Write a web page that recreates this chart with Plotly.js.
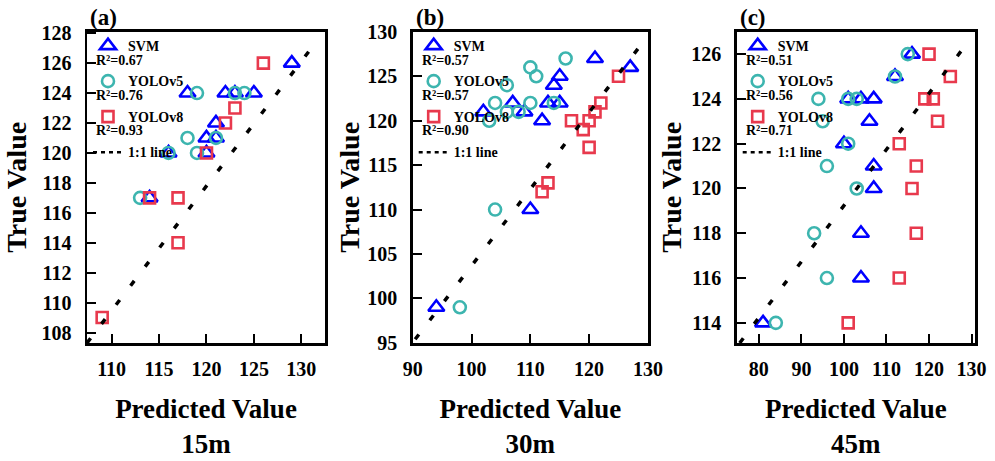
<!DOCTYPE html>
<html><head><meta charset="utf-8">
<script src="https://cdn.plot.ly/plotly-3.0.1.min.js"></script>
<style>html,body{margin:0;padding:0;background:#fff}#chart{width:995px;height:461px}</style>
</head><body><div id="chart"></div>
<script>
// ---------- data ----------
const panelLabels = ['(a)', '(b)', '(c)'];
const heightLabels = ['15m', '30m', '45m'];
const seriesNames = ['SVM', 'YOLOv5', 'YOLOv8'];
const lineName = '1:1 line';
const xTitle = 'Predicted Value';
const yTitle = 'True Value';

const r2A = ['0.67', '0.76', '0.93'];
const r2B = ['0.57', '0.57', '0.90'];
const r2C = ['0.51', '0.56', '0.71'];

// (a) 15m
const aSvmX = [129, 118, 122, 123, 125, 121, 120, 121, 116, 120, 114];
const aSvmY = [126, 124, 124, 124, 124, 122, 121, 121, 120, 120, 117];
const aV5X  = [119, 123, 124, 118, 121, 116, 119, 113];
const aV5Y  = [124, 124, 124, 121, 121, 120, 120, 117];
const aV8X  = [126, 123, 122, 120, 114, 117, 117, 109];
const aV8Y  = [126, 123, 122, 120, 117, 117, 114, 109];
const aLineX = [107.4, 131.3];
const aLineY = [107.3, 127.2];

// (b) 30m
const bSvmX = [94, 110, 121, 127, 115, 114, 107, 113, 115, 102, 109, 112];
const bSvmY = [99, 110, 127, 126, 125, 124, 122, 122, 122, 121, 121, 120];
const bV5X  = [98, 104, 116, 110, 111, 106, 110, 114, 104, 106, 108, 103];
const bV5Y  = [99, 110, 127, 126, 125, 124, 122, 122, 122, 121, 121, 120];
const bV8X  = [112, 113, 120, 119, 117, 120, 121, 122, 125];
const bV8Y  = [112, 113, 117, 119, 120, 120, 121, 122, 125];
const bLineX = [90.4, 129.0];
const bLineY = [95.4, 128.7];

// (c) 45m
const cSvmX = [81, 104, 104, 107, 107, 100, 106, 101, 104, 107, 112, 116];
const cSvmY = [114, 116, 118, 120, 121, 122, 123, 124, 124, 124, 125, 126];
const cV5X  = [84, 96, 93, 103, 96, 101, 95, 94, 101, 103, 112, 115];
const cV5Y  = [114, 116, 118, 120, 121, 122, 123, 124, 124, 124, 125, 126];
const cV8X  = [101, 113, 117, 116, 117, 113, 122, 119, 121, 125, 120];
const cV8Y  = [114, 116, 118, 120, 121, 122, 123, 124, 124, 125, 126];
const cLineX = [75.5, 128.6];
const cLineY = [113.1, 126.4];

const xTickStart = [110, 90, 80];
const xTickStep  = [5, 10, 10];
const yTickStart = [108, 95, 114];
const yTickStep  = [2, 5, 2];
const xRanges = [[107.4, 132.5], [89.98, 130.02], [74.8, 130.8]];
const yRanges = [[107.3, 128.1], [94.98, 130.02], [113.1, 127.0]];

// ---------- styling ----------
const FONT = 'Liberation Serif, "Times New Roman", serif';
const W = 995, H = 461;
const colors = ['#0000FF', '#3DB5AF', '#E8394D'];
const symbols = ['triangle-up-open', 'circle-open', 'square-open'];
const sizes = [14, 12, 11];
const frameLeft = [87, 412.7, 736.7];
const frameRight = [325, 648, 975];
const frameTop = 31.7, frameBottom = 343;
const yTitleStandoff = [7, 0, 2];

const panelData = [
  {sx: [aSvmX, aV5X, aV8X], sy: [aSvmY, aV5Y, aV8Y], lx: aLineX, ly: aLineY, r2: r2A},
  {sx: [bSvmX, bV5X, bV8X], sy: [bSvmY, bV5Y, bV8Y], lx: bLineX, ly: bLineY, r2: r2B},
  {sx: [cSvmX, cV5X, cV8X], sy: [cSvmY, cV5Y, cV8Y], lx: cLineX, ly: cLineY, r2: r2C}
];

const traces = [];
const layout = {
  width: W, height: H,
  margin: {l: 0, r: 0, t: 0, b: 0},
  paper_bgcolor: 'white', plot_bgcolor: 'white',
  font: {family: FONT, color: 'black'},
  showlegend: true,
  annotations: []
};

const big = t => '<span style="font-size:14px">' + t + '</span>';

panelData.forEach((p, i) => {
  const n = i === 0 ? '' : String(i + 1);
  const xa = 'x' + n, ya = 'y' + n;
  const legendId = 'legend' + n;
  for (let s = 0; s < 3; s++) {
    traces.push({
      type: 'scatter', mode: 'markers',
      x: p.sx[s], y: p.sy[s], xaxis: xa, yaxis: ya,
      name: big(seriesNames[s]) + '<br>\u00a0', legend: legendId,
      marker: {symbol: symbols[s], size: sizes[s], color: colors[s], line: {width: 2.6, color: colors[s]}},
      hoverinfo: 'x+y'
    });
  }
  // legend sample for the 1:1 line (short dashes, as in the original key)
  traces.push({
    type: 'scatter', mode: 'lines', x: [null], y: [null], xaxis: xa, yaxis: ya,
    name: big(lineName), legend: legendId,
    line: {color: 'black', width: 2.5, dash: '4px,4px'}
  });
  // the 1:1 line itself
  traces.push({
    type: 'scatter', mode: 'lines', x: p.lx, y: p.ly, xaxis: xa, yaxis: ya,
    name: lineName, legend: legendId, showlegend: false,
    line: {color: 'black', width: 3.5, dash: '6px,18px'}
  });

  const axCommon = {
    showgrid: false, zeroline: false, showline: true, linecolor: 'black', linewidth: 2.5,
    mirror: true, ticks: 'inside', ticklen: 9, tickwidth: 2, tickcolor: 'black',
    tickfont: {family: FONT, size: 20, color: 'black', weight: 'bold'},
    tickmode: 'linear', fixedrange: true
  };
  layout['xaxis' + n] = Object.assign({}, axCommon, {
    domain: [frameLeft[i] / W, frameRight[i] / W], anchor: ya,
    range: xRanges[i], tick0: xTickStart[i], dtick: xTickStep[i],
    ticklabelstandoff: 6,
    title: {text: xTitle + '<br>' + heightLabels[i], standoff: 21,
            font: {family: FONT, size: 27, color: 'black', weight: 'bold'}}
  });
  layout['yaxis' + n] = Object.assign({}, axCommon, {
    domain: [1 - frameBottom / H, 1 - frameTop / H], anchor: xa,
    range: yRanges[i], tick0: yTickStart[i], dtick: yTickStep[i],
    ticklabelstandoff: 9,
    title: {text: yTitle, standoff: yTitleStandoff[i],
            font: {family: FONT, size: 28, color: 'black', weight: 'bold'}}
  });
  layout[legendId] = {
    x: (frameLeft[i] + 1) / W, y: 1 - 31 / H, xanchor: 'left', yanchor: 'top',
    bgcolor: 'rgba(0,0,0,0)', borderwidth: 0, valign: 'top', tracegroupgap: 0,
    itemwidth: 30,
    font: {family: FONT, size: 12.5, color: 'black', weight: 'bold'}
  };
  // R² labels under each legend entry
  const r2y = [61, 96, 130];
  for (let s = 0; s < 3; s++) {
    layout.annotations.push({
      xref: 'paper', yref: 'paper', x: (frameLeft[i] + 7) / W, y: 1 - r2y[s] / H,
      xanchor: 'left', yanchor: 'middle', showarrow: false,
      text: 'R\u00b2=' + p.r2[s],
      font: {family: FONT, size: 14, color: 'black', weight: 'bold'}
    });
  }
  // panel label
  layout.annotations.push({
    xref: 'paper', yref: 'paper', x: (frameLeft[i] + 1) / W, y: 1 - 18 / H,
    xanchor: 'left', yanchor: 'middle', showarrow: false,
    text: panelLabels[i],
    font: {family: FONT, size: 23, color: 'black', weight: 'bold'}
  });
});

Plotly.newPlot('chart', traces, layout, {staticPlot: true, displayModeBar: false});
</script></body></html>
